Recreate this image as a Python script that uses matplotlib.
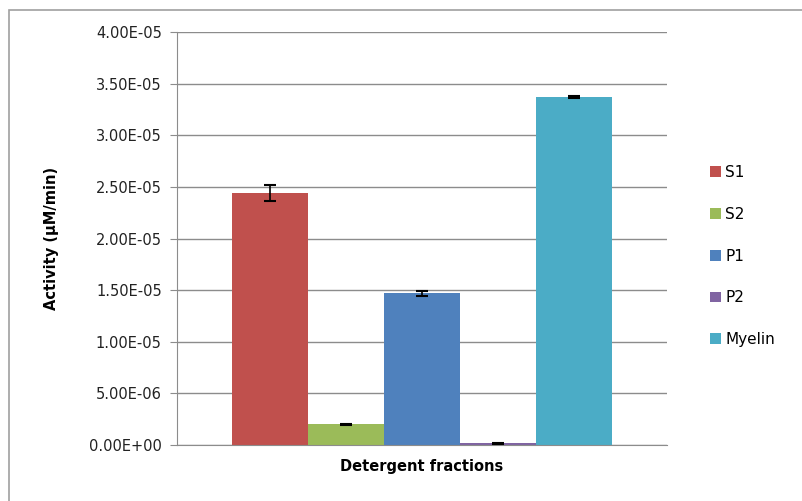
import matplotlib.pyplot as plt
from matplotlib.patches import Rectangle
from matplotlib.ticker import FuncFormatter

labels = ["S1", "S2", "P1", "P2", "Myelin"]
values = [2.44e-5, 2.0e-6, 1.47e-5, 1.5e-7, 3.37e-5]
errors = [8e-7, 5e-8, 2.5e-7, 5e-8, 1.2e-7]
colors = ["#C0504D", "#9BBB59", "#4F81BD", "#8064A2", "#4BACC6"]

plt.rcParams['font.family'] = ['DejaVu Sans']

fig = plt.figure(figsize=(8.02, 5.01), dpi=100)
ax = fig.add_axes([177 / 802, 1 - 445 / 501, 490 / 802, 413 / 501])

# outer chart frame like Excel (runs off the right and bottom edges)
fig.patches.append(Rectangle((9 / 802, -0.05), 1.1, 1.05 - 10 / 501, transform=fig.transFigure,
                             fill=False, edgecolor="#a0a0a0", linewidth=1.2))

w = 0.155
for i, (lab, v, e, c) in enumerate(zip(labels, values, errors, colors)):
    x = (i - 2) * w
    ax.bar(x, v, width=w, color=c, label=lab, zorder=2)
    ax.errorbar(x, v, yerr=e, color="black", capsize=4, elinewidth=1.2, capthick=1.5, zorder=3)

ax.set_xlim(-0.5, 0.5)
ax.set_ylim(0, 4e-5)
ax.set_yticks([i * 5e-6 for i in range(9)])
ax.yaxis.set_major_formatter(FuncFormatter(lambda v, _: f"{v:.2E}"))
ax.set_xticks([])
ax.grid(axis='y', color="#8c8c8c", linewidth=1, zorder=0)
ax.tick_params(axis='y', length=5, color="#8c8c8c", labelsize=10.5, pad=6, labelcolor="#222222")

for s in ["top", "right"]:
    ax.spines[s].set_visible(False)
for s in ["left", "bottom"]:
    ax.spines[s].set_color("#8c8c8c")

ax.set_xlabel("Detergent fractions", fontsize=10.5, fontweight="bold")
ax.set_ylabel("Activity (µM/min)", fontsize=10.5, fontweight="bold")
ax.xaxis.set_label_coords(0.5, -0.033)
ax.yaxis.set_label_coords(-0.24, 0.5)

ax.legend(loc="center left", bbox_to_anchor=(1.06, 0.4576), frameon=False, fontsize=11,
          handlelength=0.7, handleheight=0.7, labelspacing=1.75, handletextpad=0.3)

plt.savefig("out.png", dpi=100)
